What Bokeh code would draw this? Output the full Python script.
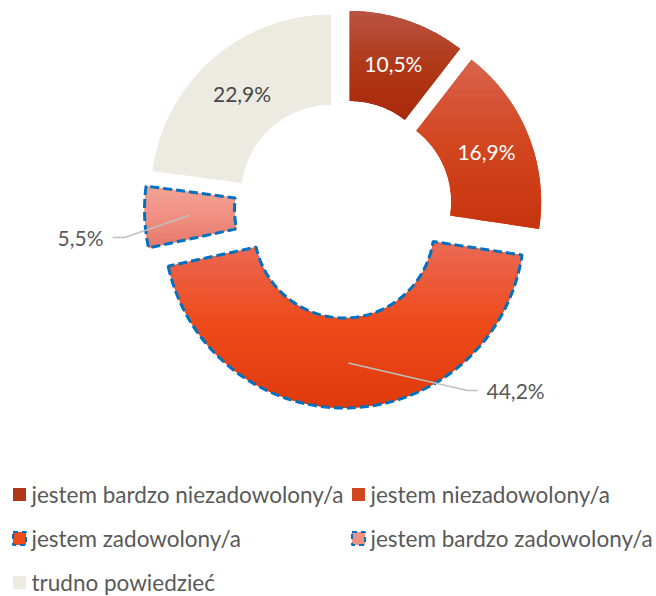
import math
from bokeh.plotting import figure
from bokeh.models import ColumnDataSource, Range1d
from bokeh.core.properties import value
from bokeh.embed import file_html
from bokeh.resources import INLINE

# ---- data ----
categories = ["jestem bardzo niezadowolony/a", "jestem niezadowolony/a",
              "jestem zadowolony/a", "jestem bardzo zadowolony/a", "trudno powiedzieć"]
values = [10.5, 16.9, 44.2, 5.5, 22.9]
labels = ["10,5%", "16,9%", "44,2%", "5,5%", "22,9%"]

# ---- styles ----
colors = ["#B03818", "#D2461F", "#EE4A1A", "#F09082", "#EDEBE1"]
grad_top = ["#BA5444", "#D9634E", "#EB6A55", "#F2A396", "#EDEBE1"]
grad_bot = ["#A82A0A", "#C7340E", "#DF3A0C", "#E5786A", "#EDEBE1"]
label_colors = ["white", "white", "#595959", "#595959", "#474747"]
dashed = [False, False, True, True, False]
FONT = "Lato"

W, H = 656, 596
CX, CY = 343, H - 208.5
R_OUT, R_IN = 180, 90
EXPLODE = 19
R_LABEL = 135

p = figure(width=W, height=H, output_backend="svg", toolbar_location=None,
           x_range=Range1d(0, W), y_range=Range1d(0, H), min_border=0)
p.axis.visible = False
p.grid.visible = False
p.outline_line_color = None
p.background_fill_color = "white"

total = sum(values)
xs, ys, starts, ends, mids = [], [], [], [], []
cum = 0.0
for v in values:
    a_end = math.pi / 2 - 2 * math.pi * cum / total
    a_start = math.pi / 2 - 2 * math.pi * (cum + v) / total
    mid = (a_start + a_end) / 2
    xs.append(CX + EXPLODE * math.cos(mid))
    ys.append(CY + EXPLODE * math.sin(mid))
    starts.append(a_start)
    ends.append(a_end)
    mids.append(mid)
    cum += v

src = ColumnDataSource(dict(x=xs, y=ys, s=starts, e=ends, c=colors))
p.annular_wedge(x="x", y="y", inner_radius=R_IN, outer_radius=R_OUT,
                start_angle="s", end_angle="e", fill_color="c", line_color=None,
                source=src)


# ---- vertical gradient shading drawn as thin horizontal strips of each wedge ----
def hex2rgb(h):
    h = h.lstrip("#")
    return tuple(int(h[k:k + 2], 16) for k in (0, 2, 4))


def mix(c1, c2, t):
    a, b = hex2rgb(c1), hex2rgb(c2)
    return "#%02x%02x%02x" % tuple(int(round(a[k] + (b[k] - a[k]) * t)) for k in range(3))


def clip_y(pts, y0, keep_above):
    out = []
    n = len(pts)
    for k in range(n):
        cur, prev = pts[k], pts[k - 1]
        cin = cur[1] >= y0 if keep_above else cur[1] <= y0
        pin = prev[1] >= y0 if keep_above else prev[1] <= y0
        if cin != pin:
            t = (y0 - prev[1]) / (cur[1] - prev[1])
            out.append((prev[0] + t * (cur[0] - prev[0]), y0))
        if cin:
            out.append(cur)
    return out


strip_x, strip_y, strip_c = [], [], []
NSEG, NBAND = 120, 40
for i in range(len(values)):
    a0, a1 = starts[i], ends[i]
    poly = [(xs[i] + R_OUT * math.cos(a0 + (a1 - a0) * k / NSEG),
             ys[i] + R_OUT * math.sin(a0 + (a1 - a0) * k / NSEG)) for k in range(NSEG + 1)]
    poly += [(xs[i] + R_IN * math.cos(a1 - (a1 - a0) * k / NSEG),
              ys[i] + R_IN * math.sin(a1 - (a1 - a0) * k / NSEG)) for k in range(NSEG + 1)]
    ymin = min(q[1] for q in poly)
    ymax = max(q[1] for q in poly)
    for b in range(NBAND):
        y_lo = ymax - (ymax - ymin) * (b + 1) / NBAND
        y_hi = ymax - (ymax - ymin) * b / NBAND
        part = clip_y(poly, y_lo - 0.6, True)
        part = clip_y(part, y_hi + 0.6, False) if part else []
        if len(part) < 3:
            continue
        t = (b + 0.5) / NBAND
        col = mix(grad_top[i], colors[i], t * 2) if t < 0.5 else mix(colors[i], grad_bot[i], (t - 0.5) * 2)
        strip_x.append([q[0] for q in part])
        strip_y.append([q[1] for q in part])
        strip_c.append(col)

p.patches(xs=strip_x, ys=strip_y, fill_color=strip_c, line_color=None)

# dashed outlines
dx = [x for x, d in zip(xs, dashed) if d]
dy = [y for y, d in zip(ys, dashed) if d]
ds = [s for s, d in zip(starts, dashed) if d]
de = [e for e, d in zip(ends, dashed) if d]
p.annular_wedge(x=dx, y=dy, inner_radius=R_IN, outer_radius=R_OUT,
                start_angle=ds, end_angle=de, fill_color=None,
                line_color="#0070C0", line_width=3, line_dash="9 4")

# inside labels
inside = [0, 1, 4]
lx = [xs[i] + R_LABEL * math.cos(mids[i]) for i in inside]
ly = [ys[i] + R_LABEL * math.sin(mids[i]) for i in inside]
p.text(x=lx, y=ly, text=[labels[i] for i in inside],
       text_color=[label_colors[i] for i in inside],
       text_align="center", text_baseline="middle",
       text_font=value(FONT), text_font_size="21px")

# outside labels with leader lines: (slice index, elbow, end, label side)
outside = [(3, (124, H - 237), (112, H - 237), "right"),
           (2, (467, H - 390), (477, H - 390), "left")]
for i, elbow, end, side in outside:
    sx = xs[i] + R_LABEL * math.cos(mids[i])
    sy = ys[i] + R_LABEL * math.sin(mids[i])
    p.line(x=[sx, elbow[0], end[0]], y=[sy, elbow[1], end[1]],
           line_color="#BFBFBF", line_width=1.5)
    tx = end[0] - 9 if side == "right" else end[0] + 9
    p.text(x=[tx], y=[end[1]], text=[labels[i]], text_color=label_colors[i],
           text_align=side, text_baseline="middle",
           text_font=value(FONT), text_font_size="21px")

# legend (manual)
leg_pos = [(19, H - 494), (358, H - 494), (19, H - 538), (358, H - 538), (19, H - 582)]
for i, (mx, my) in enumerate(leg_pos):
    p.rect(x=[mx], y=[my], width=13, height=13, fill_color=colors[i],
           line_color="#0070C0" if dashed[i] else None,
           line_width=2 if dashed[i] else 0, line_dash="5 4" if dashed[i] else "solid")
    p.text(x=[mx + 12], y=[my], text=[categories[i]], text_color="#595959",
           text_align="left", text_baseline="middle",
           text_font=value(FONT), text_font_size="22.5px")

open("out.html", "w").write(file_html(p, INLINE))
